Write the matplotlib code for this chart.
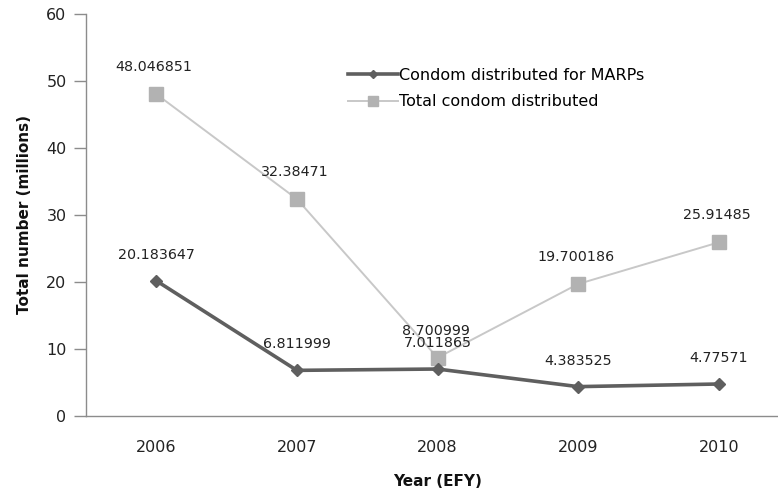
import matplotlib
matplotlib.use("Agg")
import matplotlib.pyplot as plt

plt.rcParams['font.family'] = ['DejaVu Sans']

years = ['2006', '2007', '2008', '2009', '2010']
marps = [20.183647, 6.811999, 7.011865, 4.383525, 4.77571]
total = [48.046851, 32.38471, 8.700999, 19.700186, 25.91485]
marps_labels = ['20.183647', '6.811999', '7.011865', '4.383525', '4.77571']
total_labels = ['48.046851', '32.38471', '8.700999', '19.700186', '25.91485']
y_ticks = [0, 10, 20, 30, 40, 50, 60]

fig = plt.figure(figsize=(7.78, 4.94), dpi=100)
ax = fig.add_axes([86 / 778, 78 / 494, 703 / 778, 402 / 494])

x = list(range(len(years)))
ax.plot(x, total, color='#c8c8c8', lw=1.4, marker='s', ms=9.5,
        mfc='#b2b2b2', mec='#b2b2b2', label='Total condom distributed', zorder=2)
ax.plot(x, marps, color='#5f5f5f', lw=2.6, marker='D', ms=6,
        mfc='#5f5f5f', mec='#5f5f5f', label='Condom distributed for MARPs', zorder=3)

for xi, v, s in zip(x, total, total_labels):
    ax.annotate(s, (xi, v), xytext=(-2, 27), textcoords='offset pixels',
                ha='center', va='center', fontsize=10.3, color='#222222')
for xi, v, s in zip(x, marps, marps_labels):
    ax.annotate(s, (xi, v), xytext=(0, 26), textcoords='offset pixels',
                ha='center', va='center', fontsize=10.3, color='#222222')

ax.set_xlim(-0.5, 4.5)
ax.set_ylim(0, 60)
ax.set_xticks(x)
ax.set_xticklabels(years)
ax.set_yticks(y_ticks)

for side in ['top', 'right']:
    ax.spines[side].set_visible(False)
for side in ['left', 'bottom']:
    ax.spines[side].set_color('#8c8c8c')
    ax.spines[side].set_linewidth(1.0)

ax.tick_params(axis='y', length=9, width=1.0, color='#8c8c8c', labelsize=11.5,
               labelcolor='#222222', pad=5)
ax.tick_params(axis='x', length=0, labelsize=11.5, labelcolor='#222222', pad=17)

ax.set_xlabel('Year (EFY)', fontsize=11, fontweight='bold', labelpad=14,
              color='#111111')
ax.set_ylabel('Total number (millions)', fontsize=11, fontweight='bold',
              labelpad=10, color='#111111')

handles, labels = ax.get_legend_handles_labels()
leg = ax.legend(handles[::-1], labels[::-1], loc='upper left',
                bbox_to_anchor=(262 / 703, 1 - 54 / 402), frameon=False,
                fontsize=11.5, handlelength=3.1, handletextpad=0.1,
                labelspacing=0.7, borderaxespad=0, borderpad=0,
                markerscale=0.75)

fig.text(515 / 778, 1.0 + 2 / 494, 'Condom distribution (2006-2010)',
         ha='right', va='baseline', fontsize=12, fontweight='bold', color='#222222')

fig.savefig('out.png', dpi=100)
